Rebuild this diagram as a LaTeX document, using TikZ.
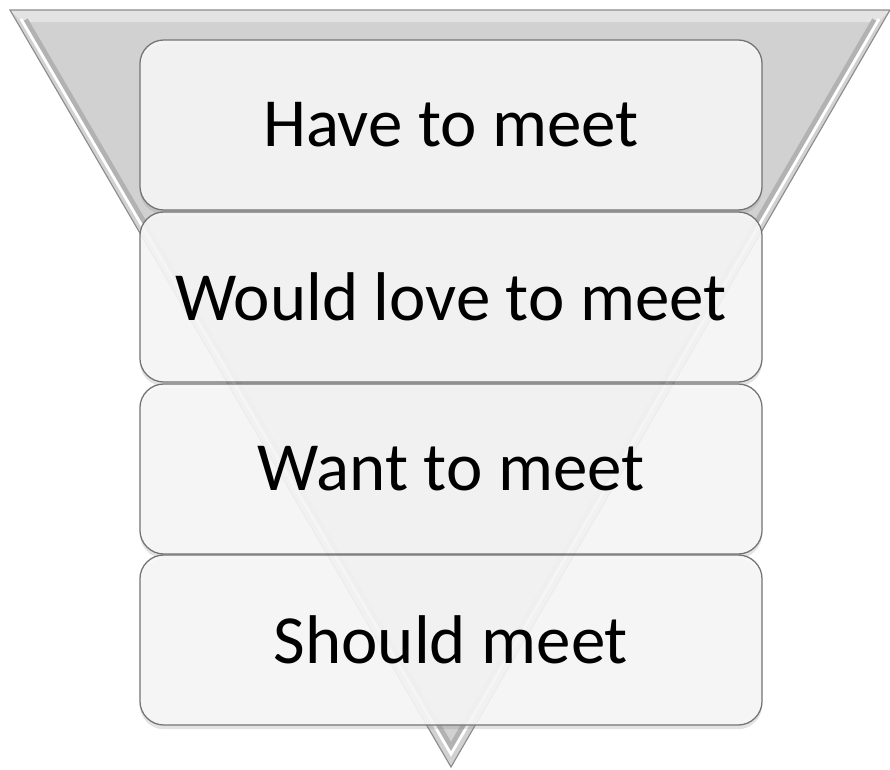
\documentclass[tikz,border=0pt]{standalone}
\usepackage{fontspec}
\setmainfont{Carlito}
\usepackage{xcolor}
\usetikzlibrary{shadows}

\tikzset{
  tier/.style={draw=black!55, line width=0.9pt, fill=black!3, fill opacity=0.9,
    text opacity=1, rounded corners=0.6cm, minimum width=15.55cm,
    minimum height=4.25cm, font=\fontsize{49}{60}\selectfont,
    drop shadow={opacity=0.22, shadow xshift=0pt, shadow yshift=-3pt}},
}

\begin{document}
\begin{tikzpicture}[x=0.025cm, y=-0.025cm]
    \useasboundingbox (0,0) rectangle (890,770);

    % the funnel behind the tiers
    \fill[black!18] (10,10) -- (890,10) -- (451,767) -- cycle;
    \fill[black!11] (10,10) -- (890,10) -- (878,22) -- (22,22) -- cycle;
    \draw[black!30, line width=4.5pt] (25,20) -- (451,748) -- (875,20);
    \draw[white, line width=2pt] (21,19) -- (451,754) -- (879,19);
    \draw[black!45, line width=0.8pt] (10,10) -- (890,10) -- (451,767) -- cycle;

    \node[tier] (have)   at (451,125) {Have to meet};
    \node[tier] (love)   at (451,297) {Would love to meet};
    \node[tier] (want)   at (451,469) {Want to meet};
    \node[tier] (should) at (451,640) {Should meet};
\end{tikzpicture}
\end{document}
